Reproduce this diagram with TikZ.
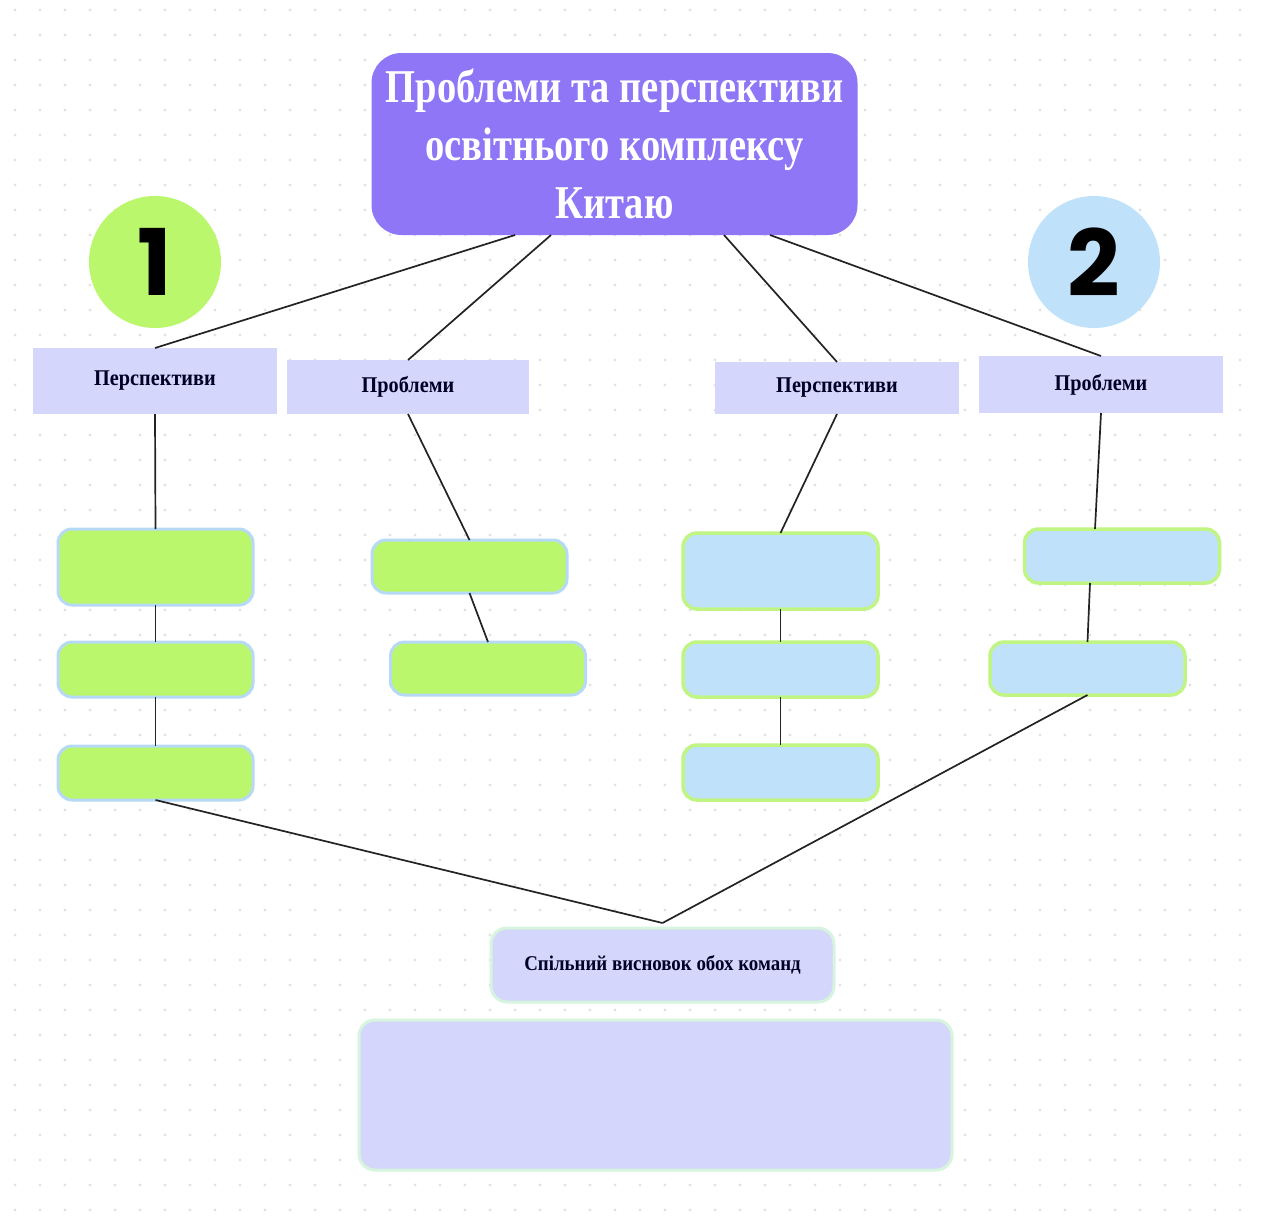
\documentclass[tikz,border=0pt]{standalone}
\usepackage{fontspec}
\setmainfont{Liberation Serif}
\newfontfamily\titlefont[FakeStretch=0.82]{Liberation Serif}
\newfontfamily\labfont[FakeStretch=0.9]{Liberation Serif}
\newfontfamily\numfont{Poppins}
\definecolor{titlepurple}{RGB}{142,118,246}
\definecolor{lgreen}{RGB}{186,247,108}
\definecolor{lblue}{RGB}{191,226,250}
\definecolor{lav}{RGB}{212,214,252}
\definecolor{gborder}{RGB}{182,218,246}
\definecolor{bborder}{RGB}{192,245,132}
\definecolor{mint}{RGB}{214,244,222}
\definecolor{dotgray}{RGB}{226,226,226}
\definecolor{linecol}{RGB}{35,35,35}
\tikzset{
  conn/.style={draw=linecol, line width=1.7pt},
  labelbox/.style={fill=lav, inner sep=0pt, outer sep=0pt, font=\labfont\bfseries\fontsize{22.5}{26}\selectfont, text=black!85!blue},
  greenbox/.style={fill=lgreen, draw=gborder, line width=3pt, rounded corners=14pt, minimum width=195pt, inner sep=0pt, outer sep=0pt},
  bluebox/.style={fill=lblue, draw=bborder, line width=3.5pt, rounded corners=14pt, minimum width=195pt, inner sep=0pt, outer sep=0pt},
  numcircle/.style={circle, inner sep=0pt, outer sep=0pt, minimum size=132pt, font=\numfont\bfseries\fontsize{92}{92}\selectfont}
}
\begin{document}
\begin{tikzpicture}[x=1pt, y=-1pt]
\useasboundingbox (0,0) rectangle (1263,1218);
\fill[white] (0,0) rectangle (1263,1218);
\foreach \i in {0,...,50} {
  \foreach \j in {0,...,48} {
    \fill[dotgray] (15+25*\i, 10+25*\j) circle (1.6pt);
  }
}
% title
\node[fill=titlepurple, rounded corners=30pt, minimum width=486pt, minimum height=182pt, inner sep=0pt, outer sep=0pt, text=white, align=center, font=\titlefont\bfseries\fontsize{47}{58}\selectfont] (title) at (614.5,144) {Проблеми та перспективи\\освітнього комплексу\\Китаю};
% number circles
\node[numcircle, fill=lgreen] (one) at (155,262) {1};
\node[numcircle, fill=lblue] (two) at (1094,262) {2};
% label boxes
\node[labelbox, minimum width=244pt, minimum height=66pt] (p1) at (155,381) {Перспективи};
\node[labelbox, minimum width=242pt, minimum height=54pt] (pr1) at (408,387) {Проблеми};
\node[labelbox, minimum width=244pt, minimum height=52pt] (p2) at (837,388) {Перспективи};
\node[labelbox, minimum width=244pt, minimum height=57pt] (pr2) at (1101,384.5) {Проблеми};
% green boxes
\node[greenbox, minimum height=76pt] (g1) at (155.5,567) {};
\node[greenbox, minimum height=55pt] (g2) at (155.5,669.5) {};
\node[greenbox, minimum height=54pt] (g3) at (155.5,773) {};
\node[greenbox, minimum height=53pt] (g4) at (469.5,566.5) {};
\node[greenbox, minimum height=53pt] (g5) at (488,668.5) {};
% blue boxes
\node[bluebox, minimum height=76pt] (b1) at (780.5,571) {};
\node[bluebox, minimum height=55pt] (b2) at (780.5,669.5) {};
\node[bluebox, minimum height=55pt] (b3) at (780.5,772.5) {};
\node[bluebox, minimum height=54pt] (b4) at (1122,556) {};
\node[bluebox, minimum height=53pt] (b5) at (1087.5,668.5) {};
% conclusion
\node[fill=lav, draw=mint, line width=3pt, rounded corners=16pt, minimum width=343pt, minimum height=74pt, inner sep=0pt, outer sep=0pt, font=\labfont\bfseries\fontsize{21}{24}\selectfont, text=black!85!blue] (concl) at (662.5,965) {Спільний висновок обох команд};
\node[fill=lav, draw=mint, line width=3pt, rounded corners=16pt, minimum width=593pt, minimum height=150pt, inner sep=0pt, outer sep=0pt] (big) at (655.5,1095) {};
\coordinate (meet) at ([yshift=5pt]concl.north);
% connectors
\draw[conn] ([xshift=-99.5pt]title.south) -- (p1.north);
\draw[conn] ([xshift=-63.5pt]title.south) -- (pr1.north);
\draw[conn] ([xshift=109.5pt]title.south) -- (p2.north);
\draw[conn] ([xshift=155.5pt]title.south) -- (pr2.north);
\draw[conn] (p1.south) -- (g1.north);
\draw[conn] (g1.south) -- (g2.north);
\draw[conn] (g2.south) -- (g3.north);
\draw[conn] (pr1.south) -- (g4.north);
\draw[conn] (g4.south) -- (g5.north);
\draw[conn] (p2.south) -- (b1.north);
\draw[conn] (b1.south) -- (b2.north);
\draw[conn] (b2.south) -- (b3.north);
\draw[conn] (pr2.south) -- ([xshift=-27pt]b4.north);
\draw[conn] ([xshift=-32pt]b4.south) -- (b5.north);
\draw[conn] (g3.south) -- (meet);
\draw[conn] (b5.south) -- (meet);
\end{tikzpicture}
\end{document}
